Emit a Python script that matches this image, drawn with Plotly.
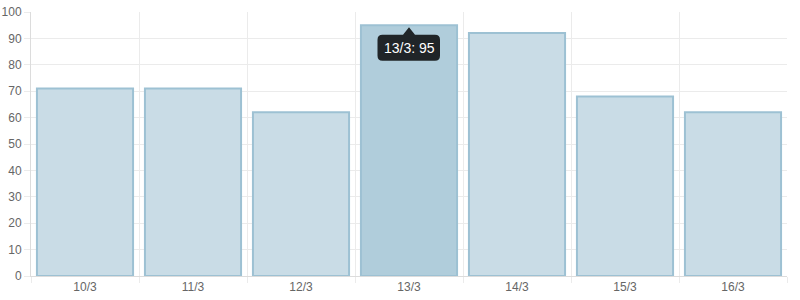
import plotly.graph_objects as go

categories = ["10/3", "11/3", "12/3", "13/3", "14/3", "15/3", "16/3"]
values = [71, 71, 62, 95, 92, 68, 62]
hover_index = 3

fill_normal = "rgba(201,220,230,1)"
fill_hover = "rgba(176,205,219,1)"
border = "rgba(157,193,211,1)"
grid = "#ebebeb"

fills = [fill_hover if i == hover_index else fill_normal for i in range(len(categories))]

fig = go.Figure()
fig.add_trace(go.Bar(
    x=categories, y=values,
    marker=dict(color=fills, line=dict(color=border, width=2)),
    hoverinfo="skip",
))

# tooltip box with caret, anchored at hovered bar top (pixel-sized path)
r = 5
L, R, T, B = -31.5, 31, -9.5, -35.5
path = (
    f"M {L + r},{T} L -6,{T} L 0,-2 L 6,{T} L {R - r},{T} "
    f"Q {R},{T} {R},{T - r} L {R},{B + r} Q {R},{B} {R - r},{B} "
    f"L {L + r},{B} Q {L},{B} {L},{B + r} L {L},{T - r} Q {L},{T} {L + r},{T} Z"
)
fig.add_shape(
    type="path", path=path,
    xref="x", yref="y",
    xsizemode="pixel", ysizemode="pixel",
    xanchor=hover_index, yanchor=values[hover_index],
    fillcolor="rgba(0,0,0,0.82)", line=dict(width=0),
)
fig.add_annotation(
    x=categories[hover_index], y=values[hover_index],
    text=f"{categories[hover_index]}: {values[hover_index]}",
    showarrow=False, yshift=-22.5, xshift=0,
    font=dict(color="white", size=14, family="Liberation Sans, Arial"),
)

fig.update_layout(
    width=800, height=300,
    margin=dict(l=31, r=13, t=12, b=24, autoexpand=False),
    paper_bgcolor="white", plot_bgcolor="white",
    bargap=0.11,
    showlegend=False,
    font=dict(family="Liberation Sans, Arial, sans-serif", size=12, color="#666"),
)
fig.update_xaxes(
    type="category", tickson="boundaries",
    showgrid=True, gridcolor=grid, gridwidth=1,
    ticks="outside", ticklen=6, tickcolor=grid,
    showline=True, linecolor="#dcdcdc", linewidth=1,
    range=[-0.5, 6.5], fixedrange=True, automargin=False,
)
fig.update_yaxes(
    range=[0, 100], dtick=10,
    showgrid=True, gridcolor=grid, gridwidth=1,
    ticks="outside", ticklen=6, tickcolor=grid,
    showline=True, linecolor="#dcdcdc", linewidth=1,
    zeroline=False, fixedrange=True, automargin=False,
)

fig.write_html("out.html")
